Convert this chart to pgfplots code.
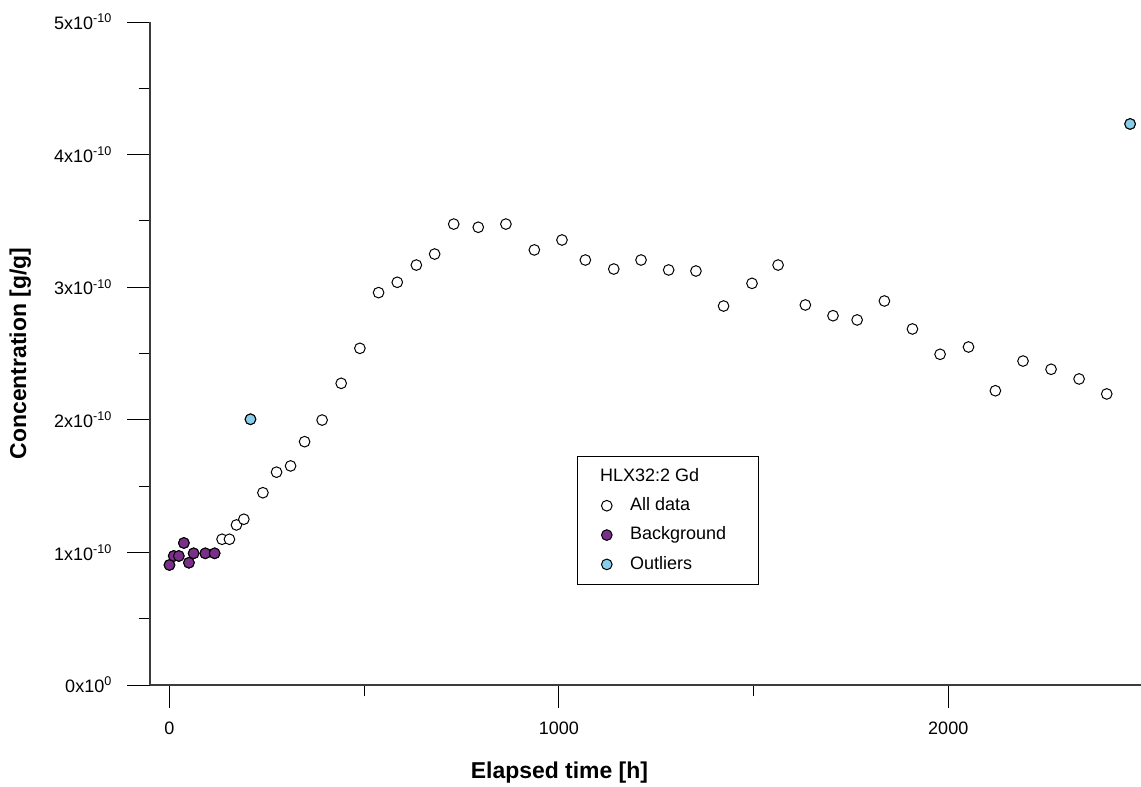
\documentclass[border=0pt]{standalone}
\usepackage{fontspec}
\setmainfont{Liberation Sans}
\usepackage{pgfplots}
\pgfplotsset{compat=1.18}
\definecolor{bgpurple}{RGB}{122,48,138}
\definecolor{outblue}{RGB}{135,206,235}
\definecolor{axgray}{RGB}{60,60,60}
\begin{document}
\begin{tikzpicture}
\begin{axis}[name=ax, scale only axis, width=743.25pt, height=497.25pt,
  xmin=-50, xmax=2495, ymin=0, ymax=5e-10,
  clip=false,
  axis x line*=bottom, axis y line*=left,
  axis line style={axgray, line width=0.8pt, -},
  xtick={0,1000,2000}, xticklabels={0,1000,2000}, minor xtick={500,1500},
  ytick={0,1e-10,2e-10,3e-10,4e-10,5e-10},
  minor ytick={0.5e-10,1.5e-10,2.5e-10,3.5e-10,4.5e-10},
  yticklabels={0x10\textsuperscript{0},1x10\textsuperscript{-10},2x10\textsuperscript{-10},3x10\textsuperscript{-10},4x10\textsuperscript{-10},5x10\textsuperscript{-10}},
  scaled y ticks=false, scaled x ticks=false,
  tick align=outside, major tick length=17pt, minor tick length=8.5pt,
  tick style={black, line width=0.6pt},
  ticklabel style={font=\fontsize{13.5}{16}\selectfont},
  xticklabel style={yshift=-7.5pt},
  yticklabel style={xshift=-8pt},
  xlabel={Elapsed time [h]}, ylabel={Concentration [g/g]},
  label style={font=\bfseries\fontsize{17.2}{20}\selectfont},
  x label style={at={(axis description cs:0.4132,-0.1327)}, anchor=center},
  y label style={at={(axis description cs:-0.1310,0.5)}, anchor=center},
  legend style={at={(0.4309,0.3454)}, anchor=north west, draw=black, fill=white,
    line width=0.6pt, font=\fontsize{13.5}{16}\selectfont,
    inner xsep=13.5pt, inner ysep=8.5pt, row sep=9pt, column sep=13.5pt,
    nodes={inner sep=0pt, text height=10pt, text depth=3pt}},
  legend cell align=left,
]
\addlegendimage{empty legend}
\addlegendentry{\hspace*{-22.5pt}HLX32:2 Gd}
\addplot[only marks, mark=*, mark size=4pt, mark options={fill=white, draw=black, line width=0.75pt}] coordinates {
(0,0.905e-10)(11,0.973e-10)(24,0.973e-10)(37,1.071e-10)(50,0.922e-10)(62,0.993e-10)(92,0.993e-10)(116,0.993e-10)
(135,1.099e-10)(154,1.099e-10)(172,1.207e-10)(191,1.250e-10)(208,2.004e-10)(240,1.450e-10)(275,1.605e-10)(311,1.652e-10)
(347,1.835e-10)(392,1.998e-10)(441,2.275e-10)(489,2.539e-10)(537,2.959e-10)(585,3.037e-10)(634,3.167e-10)(681,3.250e-10)
(730,3.476e-10)(793,3.452e-10)(864,3.476e-10)(937,3.281e-10)(1008,3.356e-10)(1068,3.205e-10)(1141,3.137e-10)(1211,3.205e-10)
(1282,3.130e-10)(1352,3.122e-10)(1423,2.858e-10)(1496,3.029e-10)(1563,3.167e-10)(1633,2.866e-10)(1704,2.785e-10)(1766,2.753e-10)
(1836,2.896e-10)(1908,2.685e-10)(1979,2.494e-10)(2052,2.549e-10)(2121,2.219e-10)(2192,2.443e-10)(2264,2.381e-10)(2336,2.308e-10)
(2407,2.195e-10)(2467,4.231e-10)
};
\addlegendentry{All data}
\addplot[only marks, mark=*, mark size=4pt, mark options={fill=bgpurple, draw=black, line width=0.75pt}] coordinates {
(0,0.905e-10)(11,0.973e-10)(24,0.973e-10)(37,1.071e-10)(50,0.922e-10)(62,0.993e-10)(92,0.993e-10)(116,0.993e-10)
};
\addlegendentry{Background\hspace*{10.5pt}}
\addplot[only marks, mark=*, mark size=4pt, mark options={fill=outblue, draw=black, line width=0.75pt}] coordinates {
(208,2.004e-10)(2467,4.231e-10)
};
\addlegendentry{Outliers}
\end{axis}
\pgfresetboundingbox
\path ([xshift=-112.5pt, yshift=-76.5pt]ax.south west) rectangle ([yshift=16.5pt]ax.north east);
\end{tikzpicture}
\end{document}
